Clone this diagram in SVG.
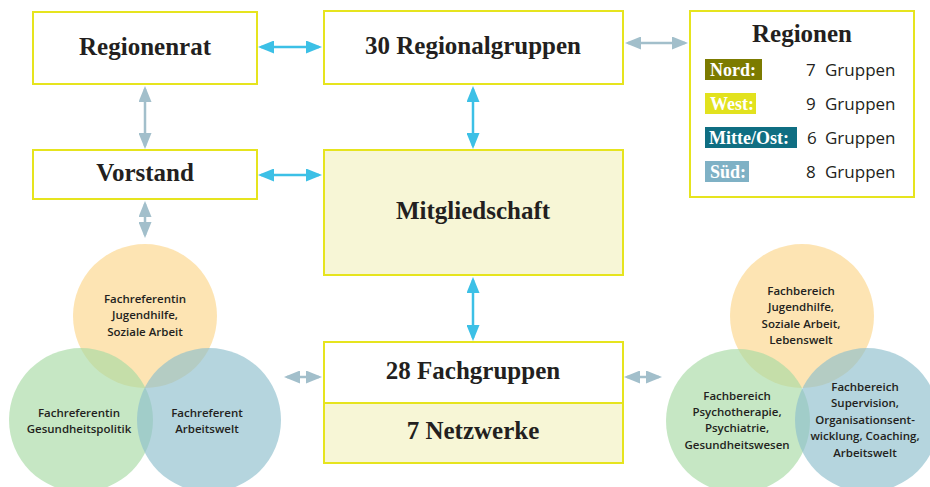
<svg xmlns="http://www.w3.org/2000/svg" width="930" height="487" viewBox="0 0 930 487">
<style>
.box{fill:#fff;stroke:#E6E41E;stroke-width:2}
.fill{fill:#F7F6D6}
.t{font-family:"Liberation Serif","Times New Roman",serif;font-weight:bold;font-size:25px;fill:#231F20;text-anchor:middle}
.lab{font-family:"Liberation Serif","Times New Roman",serif;font-weight:bold;font-size:18px;fill:#fff}
.cnt{font-family:"Open Sans","Noto Sans",sans-serif;font-size:17px;fill:#231F20}
.c{font-family:"Open Sans","Noto Sans",sans-serif;font-weight:600;font-size:11.5px;fill:#231F20;text-anchor:middle}
.cy{stroke:#3CC0E6;stroke-width:2.5;fill:none}
.gy{stroke:#A2BFCB;stroke-width:2.5;fill:none}
.ca{fill:#3CC0E6}
.ga{fill:#A2BFCB}
.co{fill:#FCD58A;fill-opacity:0.65}
.cg{fill:#A8DAA5;fill-opacity:0.65}
.cb{fill:#8DBFCD;fill-opacity:0.65}
</style>
<defs>
<marker id="hc" viewBox="0 0 16 13" markerUnits="userSpaceOnUse" markerWidth="16" markerHeight="13" refX="13" refY="6.5" orient="auto-start-reverse"><path class="ca" d="M0,0 L16,6.5 L0,13 z"/></marker>
<marker id="hg" viewBox="0 0 16 13" markerUnits="userSpaceOnUse" markerWidth="16" markerHeight="13" refX="13" refY="6.5" orient="auto-start-reverse"><path class="ga" d="M0,0 L16,6.5 L0,13 z"/></marker>
</defs>

<g id="venn-left">
<circle class="co" cx="145" cy="316" r="72"/>
<circle class="cg" cx="81" cy="420" r="72"/>
<circle class="cb" cx="209" cy="420" r="72"/>
<text class="c" x="145" y="302.5">Fachreferentin</text>
<text class="c" x="145" y="319">Jugendhilfe,</text>
<text class="c" x="145" y="335.5">Soziale Arbeit</text>
<text class="c" x="79" y="416.5">Fachreferentin</text>
<text class="c" x="79" y="433">Gesundheitspolitik</text>
<text class="c" x="207" y="416.5">Fachreferent</text>
<text class="c" x="207" y="433">Arbeitswelt</text>
</g>

<g id="venn-right">
<circle class="co" cx="802" cy="316" r="72"/>
<circle class="cg" cx="738" cy="421" r="72"/>
<circle class="cb" cx="867" cy="420" r="72"/>
<text class="c" x="801" y="294.5">Fachbereich</text>
<text class="c" x="801" y="311">Jugendhilfe,</text>
<text class="c" x="801" y="327.5">Soziale Arbeit,</text>
<text class="c" x="801" y="344">Lebenswelt</text>
<text class="c" x="737" y="399.5">Fachbereich</text>
<text class="c" x="737" y="416">Psychotherapie,</text>
<text class="c" x="737" y="432">Psychiatrie,</text>
<text class="c" x="737" y="448.5">Gesundheitswesen</text>
<text class="c" x="865" y="390.5">Fachbereich</text>
<text class="c" x="865" y="407">Supervision,</text>
<text class="c" x="865" y="423.5">Organisationsent-</text>
<text class="c" x="865" y="440">wicklung, Coaching,</text>
<text class="c" x="865" y="456.5">Arbeitswelt</text>
</g>

<g id="regionenrat">
<rect class="box" x="33" y="12" width="224" height="72"/>
<text class="t" x="145" y="55">Regionenrat</text>
</g>
<g id="vorstand">
<rect class="box" x="33" y="150" width="224" height="49"/>
<text class="t" x="145" y="181">Vorstand</text>
</g>
<g id="regionalgruppen">
<rect class="box" x="324" y="11" width="299" height="73"/>
<text class="t" x="473" y="54">30 Regionalgruppen</text>
</g>
<g id="mitgliedschaft">
<rect class="box fill" x="324" y="150" width="299" height="125"/>
<text class="t" x="473" y="219">Mitgliedschaft</text>
</g>
<g id="fachgruppen">
<rect class="box" x="324" y="342" width="299" height="61"/>
<text class="t" x="473" y="379">28 Fachgruppen</text>
</g>
<g id="netzwerke">
<rect class="box fill" x="324" y="403" width="299" height="60"/>
<text class="t" x="473" y="439">7 Netzwerke</text>
</g>
<g id="regionen">
<rect class="box" x="690" y="11" width="224" height="186"/>
<text class="t" x="802" y="42">Regionen</text>
<rect x="705" y="59" width="57" height="21" fill="#7C7B00"/>
<text class="lab" x="710" y="76">Nord:</text>
<rect x="705" y="93" width="51" height="21" fill="#E2E21E"/>
<text class="lab" x="710" y="110">West:</text>
<rect x="705" y="127" width="92" height="21" fill="#0F6E82"/>
<text class="lab" x="709" y="144">Mitte/Ost:</text>
<rect x="705" y="161" width="44" height="21" fill="#7FB1C5"/>
<text class="lab" x="710" y="178">Süd:</text>
<text class="cnt" y="76"><tspan x="806">7</tspan><tspan x="825">Gruppen</tspan></text>
<text class="cnt" y="110"><tspan x="806">9</tspan><tspan x="825">Gruppen</tspan></text>
<text class="cnt" y="144"><tspan x="807">6</tspan><tspan x="825">Gruppen</tspan></text>
<text class="cnt" y="178"><tspan x="806">8</tspan><tspan x="825">Gruppen</tspan></text>
</g>

<g id="connectors">
<line class="cy" x1="261" y1="47" x2="319" y2="47" marker-start="url(#hc)" marker-end="url(#hc)"/>
<line class="cy" x1="261" y1="175" x2="319" y2="175" marker-start="url(#hc)" marker-end="url(#hc)"/>
<line class="cy" x1="473" y1="89" x2="473" y2="146" marker-start="url(#hc)" marker-end="url(#hc)"/>
<line class="cy" x1="473" y1="280" x2="473" y2="338" marker-start="url(#hc)" marker-end="url(#hc)"/>
<line class="gy" x1="145" y1="89" x2="145" y2="146" marker-start="url(#hg)" marker-end="url(#hg)"/>
<line class="gy" x1="145" y1="204" x2="145" y2="235" marker-start="url(#hg)" marker-end="url(#hg)"/>
<line class="gy" x1="628" y1="43" x2="685" y2="43" marker-start="url(#hg)" marker-end="url(#hg)"/>
<line class="gy" x1="287" y1="377" x2="319" y2="377" marker-start="url(#hg)" marker-end="url(#hg)"/>
<line class="gy" x1="627" y1="377" x2="659" y2="377" marker-start="url(#hg)" marker-end="url(#hg)"/>
</g>
</svg>
